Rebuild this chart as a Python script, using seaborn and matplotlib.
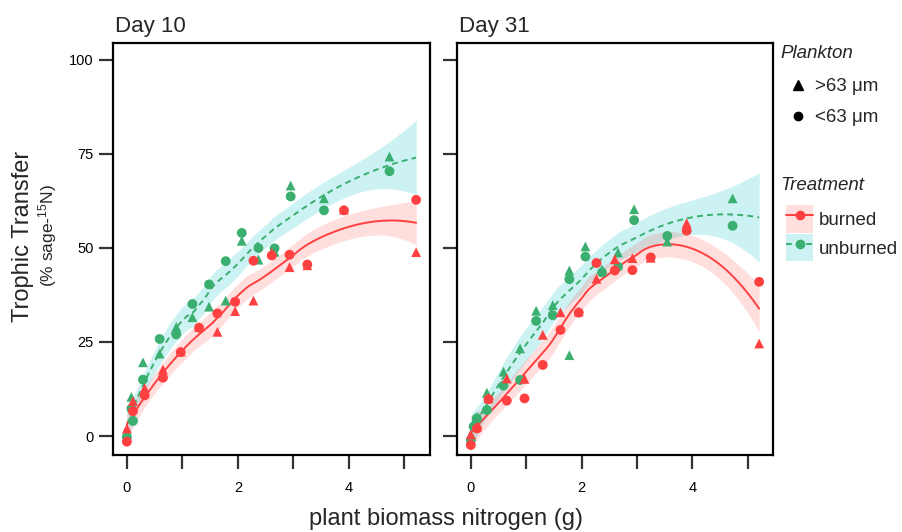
import numpy as np
import pandas as pd
import matplotlib
matplotlib.use("Agg")
import matplotlib.pyplot as plt
import seaborn as sns
from matplotlib.lines import Line2D
from matplotlib.patches import Patch

# ---------------- data ----------------
days = ["Day 10", "Day 31"]
treatments = ["burned", "unburned"]
plankton = [">63 \u03bcm", "<63 \u03bcm"]

d10_unburned_x = [0, 0.08, 0.11, 0.29, 0.59, 0.89, 1.18, 1.48, 1.78, 2.07, 2.37, 2.66, 2.95, 3.55, 4.73]
d10_unburned_big = [0.5, 10.4, 5.0, 19.6, 21.9, 29.0, 31.6, 34.4, 36.0, 51.9, 46.9, 49.0, 66.6, 63.2, 74.3]
d10_unburned_small = [-0.2, 7.3, 4.0, 15.0, 25.8, 27.0, 35.1, 40.3, 46.5, 54.0, 50.0, 49.9, 63.7, 60.0, 70.4]

d10_burned_x = [0, 0.11, 0.32, 0.65, 0.97, 1.30, 1.63, 1.95, 2.28, 2.61, 2.93, 3.25, 3.91, 5.21]
d10_burned_big = [2.0, 9.3, 12.7, 17.7, 22.5, 29.0, 27.7, 33.2, 36.0, 48.7, 44.9, 45.4, 60.2, 48.9]
d10_burned_small = [-1.5, 6.6, 10.8, 15.5, 22.3, 28.8, 32.6, 35.7, 46.6, 48.0, 48.2, 45.6, 60.0, 62.8]

d31_unburned_x = [0, 0.05, 0.11, 0.29, 0.59, 0.89, 1.18, 1.48, 1.78, 2.07, 2.37, 2.66, 2.95, 3.55, 4.73]
d31_unburned_big = [0.5, 3.4, 5.1, 11.5, 17.1, 23.3, 33.3, 34.8, 44.0, 50.4, 44.3, 48.8, 60.3, 51.7, 63.2]
d31_unburned_small = [-1.1, 2.5, 4.7, 6.9, 13.4, 14.9, 30.6, 32.1, 41.7, 47.7, 43.5, 45.0, 57.4, 53.2, 55.9]
d31_unburned_extra_x = [1.78]
d31_unburned_extra_big = [21.5]

d31_burned_x = [0, 0.11, 0.32, 0.65, 0.97, 1.30, 1.62, 1.95, 2.27, 2.60, 2.92, 3.25, 3.90, 5.21]
d31_burned_big = [0.4, 2.5, 10.0, 15.3, 15.2, 26.9, 32.9, 33.1, 41.8, 47.0, 47.3, 47.4, 56.6, 24.6]
d31_burned_small = [-2.4, 2.0, 9.8, 9.4, 10.0, 18.9, 28.2, 32.8, 46.0, 44.0, 44.1, 47.5, 54.6, 41.0]

x_ticks = [0, 1, 2, 3, 4, 5]
x_ticklabels = ["0", "", "2", "", "4", ""]
y_ticks = [0, 25, 50, 75, 100]
y_ticklabels = ["0", "25", "50", "75", "100"]

# ---------------- build long table ----------------
rows = []
def add(day, trt, xs, big, small):
    for xv, b in zip(xs, big):
        rows.append((day, trt, plankton[0], xv, b))
    for xv, s in zip(xs, small):
        rows.append((day, trt, plankton[1], xv, s))

add(days[0], "unburned", d10_unburned_x, d10_unburned_big, d10_unburned_small)
add(days[0], "burned", d10_burned_x, d10_burned_big, d10_burned_small)
add(days[1], "unburned", d31_unburned_x, d31_unburned_big, d31_unburned_small)
for xv, b in zip(d31_unburned_extra_x, d31_unburned_extra_big):
    rows.append((days[1], "unburned", plankton[0], xv, b))
add(days[1], "burned", d31_burned_x, d31_burned_big, d31_burned_small)
df = pd.DataFrame(rows, columns=["day", "treatment", "plankton", "x", "y"])

# ---------------- loess (degree 2, span 0.75) ----------------
def loess(x, y, xq, span=0.75):
    x = np.asarray(x, float); y = np.asarray(y, float)
    n = len(x); q = int(np.floor(n * span))
    def rowL(x0):
        d = np.abs(x - x0)
        dmax = np.sort(d)[q - 1] * 1.0001
        w = np.clip(1 - (d / dmax) ** 3, 0, None) ** 3
        X = np.column_stack([np.ones(n), x - x0, (x - x0) ** 2])
        A = X.T @ (w[:, None] * X)
        return np.linalg.solve(A, X.T * w)[0]
    Lfit = np.array([rowL(v) for v in x])
    res = y - Lfit @ y
    I = np.eye(n)
    M = (I - Lfit).T @ (I - Lfit)
    d1 = np.trace(M)
    d2 = np.trace(M @ M)
    sigma = np.sqrt(np.sum(res ** 2) / d1)
    df_ = d1 ** 2 / d2
    t = 1.96 + 2.4 / df_
    Lq = np.array([rowL(v) for v in xq])
    fit = Lq @ y
    se = sigma * np.sqrt(np.sum(Lq ** 2, axis=1))
    return fit, fit - t * se, fit + t * se

# ---------------- styling ----------------
red = "#FF4040"
green = "#3BAF6F"
band = {"burned": (red, 0.17), "unburned": ("#00BFC4", 0.2)}
line_col = {"burned": red, "unburned": green}
line_ls = {"burned": "-", "unburned": (0, (3, 2.2))}

sns.set_theme(style="white")
plt.rcParams["font.family"] = ["Liberation Sans", "DejaVu Sans"]
plt.rcParams["mathtext.fontset"] = "custom"
plt.rcParams["mathtext.rm"] = "Liberation Sans"

W, H = 903, 532
fig = plt.figure(figsize=(W / 100, H / 100), dpi=100)
axes = [fig.add_axes([113 / W, 1 - 455 / H, 317 / W, 412 / H]),
        fig.add_axes([457 / W, 1 - 455 / H, 316 / W, 412 / H])]

for i, (ax, day) in enumerate(zip(axes, days)):
    sub = df[df["day"] == day]
    xq = np.linspace(sub["x"].min(), sub["x"].max(), 200)
    for trt in ["unburned", "burned"]:
        s = sub[sub["treatment"] == trt]
        fit, lo, hi = loess(s["x"].values, s["y"].values, xq)
        c, a = band[trt]
        ax.fill_between(xq, lo, hi, color=c, alpha=a, lw=0, zorder=1)
    for trt in ["unburned", "burned"]:
        s = sub[sub["treatment"] == trt]
        fit, lo, hi = loess(s["x"].values, s["y"].values, xq)
        ax.plot(xq, fit, color=line_col[trt], ls=line_ls[trt], lw=1.4, zorder=2)
    sns.scatterplot(data=sub, x="x", y="y", hue="treatment", style="plankton",
                    palette={"burned": red, "unburned": green},
                    markers={plankton[0]: "^", plankton[1]: "o"},
                    s=50, edgecolor="none", legend=False, ax=ax, zorder=3)
    ax.set_xlim(-0.25, 5.46)
    ax.set_ylim(-5.05, 104.5)
    ax.set_xticks(x_ticks)
    ax.set_xticklabels(x_ticklabels)
    ax.set_yticks(y_ticks)
    ax.set_yticklabels(y_ticklabels if i == 0 else [""] * len(y_ticks))
    ax.set_xlabel(""); ax.set_ylabel("")
    ax.tick_params(direction="out", length=10, width=1.6, color="#333333",
                   labelsize=10.5, labelcolor="black", left=True, bottom=True)
    ax.tick_params(axis="x", pad=9)
    ax.tick_params(axis="y", pad=4)
    for sp in ax.spines.values():
        sp.set_visible(True)
        sp.set_color("black")
        sp.set_linewidth(1.6)
    ax.text(0.005, 1.027, day, transform=ax.transAxes, fontsize=16,
            ha="left", va="baseline")

fig.text(23 / W, 1 - 236 / H, "Trophic Transfer", rotation=90, fontsize=17,
         ha="center", va="center")
fig.text(48 / W, 1 - 236 / H, r"(% sage-$\mathregular{^{15}}$N)", rotation=90,
         fontsize=12.5, ha="center", va="center")
fig.text(446 / W, 1 - 519 / H, "plant biomass nitrogen (g)", fontsize=17,
         ha="center", va="center")

# legends (titles as separate text so the layout can follow the reference)
fig.text(780 / W, 1 - 53 / H, "Plankton", fontsize=13.5, fontstyle="italic",
         ha="left", va="center")
fig.text(780 / W, 1 - 185 / H, "Treatment", fontsize=13.5, fontstyle="italic",
         ha="left", va="center")

h1 = [Line2D([], [], marker="^", color="black", ls="none", markersize=7),
      Line2D([], [], marker="o", color="black", ls="none", markersize=6)]
leg1 = fig.legend(h1, plankton, loc="upper left",
                  bbox_to_anchor=(789 / W, 1 - 78 / H), frameon=False,
                  fontsize=13.5, handlelength=1.0, borderaxespad=0,
                  handletextpad=0.4, labelspacing=0.75, borderpad=0)

h2 = []
for trt in treatments:
    c, a = band[trt]
    h2.append((Patch(facecolor=c, alpha=a, edgecolor="none"),
               Line2D([], [], color=line_col[trt], ls=line_ls[trt], lw=1.4,
                      marker="o", markersize=6)))
leg2 = fig.legend(h2, treatments, loc="upper left",
                  bbox_to_anchor=(786 / W, 1 - 205 / H), frameon=False,
                  fontsize=13.5, handlelength=1.45, borderaxespad=0,
                  handleheight=1.9, handletextpad=0.3, labelspacing=0.05,
                  borderpad=0)

fig.savefig("out.png", dpi=100)
